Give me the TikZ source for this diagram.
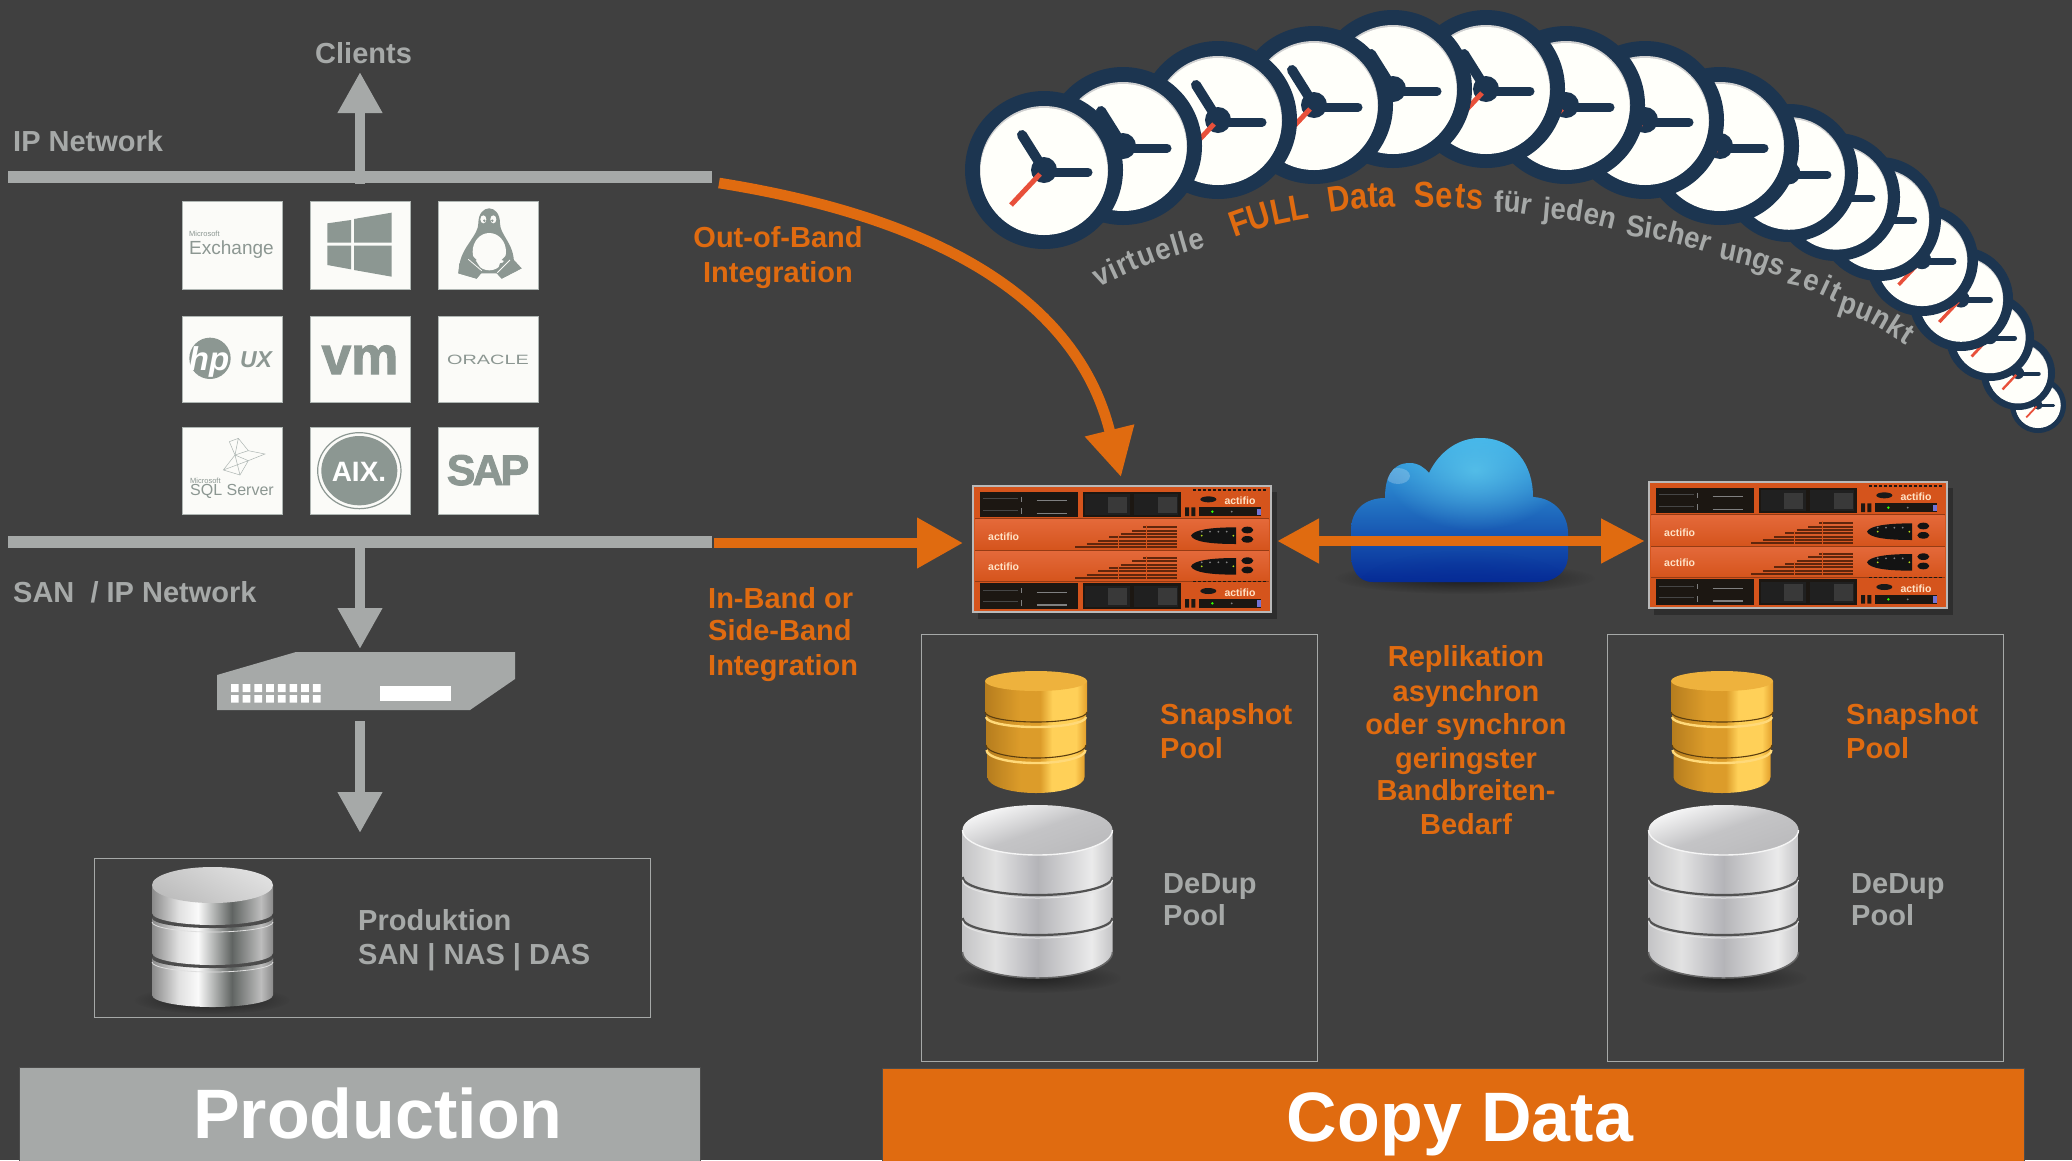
\documentclass[tikz,border=0pt]{standalone}
\usepackage{fontspec}
\setmainfont{Liberation Sans}
\newfontfamily\condf[FakeStretch=0.86]{Liberation Sans}
\newfontfamily\condg[FakeStretch=0.92]{Liberation Sans}
\newfontfamily\fatf[BoldFeatures={FakeBold=2}]{Liberation Sans}
\usetikzlibrary{arrows.meta,decorations.text,fadings}
\definecolor{bgc}{HTML}{404040}
\definecolor{gr}{HTML}{A6A9A8}
\definecolor{org}{HTML}{E06B10}
\definecolor{navy}{HTML}{1C3550}
\definecolor{logo}{HTML}{8C9792}
\definecolor{tilec}{HTML}{FBFBF8}
\definecolor{aorg}{HTML}{D5541C}
\definecolor{aorgl}{HTML}{E4693A}
\definecolor{pan}{HTML}{1C1712}
\definecolor{redh}{HTML}{E8503A}
\definecolor{cl1}{HTML}{3AAEE8}\definecolor{cl2}{HTML}{1572D2}\definecolor{cl3}{HTML}{062B96}\definecolor{cl4}{HTML}{5FCBEE}
% metal shadings
\definecolor{g1}{HTML}{B67D1E}\definecolor{g2}{HTML}{DC9C2A}\definecolor{g3}{HTML}{FFD058}\definecolor{g4}{HTML}{E39F2B}
\pgfdeclarehorizontalshading{goldsh}{100bp}{color(0bp)=(g1);color(25bp)=(g1);color(42bp)=(g2);color(52bp)=(g2);color(58bp)=(g3);color(70bp)=(g3);color(75bp)=(g4);color(100bp)=(g4)}
\definecolor{s1}{HTML}{C4C4C6}\definecolor{s2}{HTML}{E2E2E2}\definecolor{s3}{HTML}{B4B4B8}\definecolor{s4}{HTML}{EBEBEB}
\pgfdeclarehorizontalshading{silversh}{100bp}{color(0bp)=(s1);color(25bp)=(s1);color(36bp)=(s2);color(50bp)=(s3);color(68bp)=(s4);color(75bp)=(s1);color(100bp)=(s1)}
\definecolor{c1}{HTML}{8A8A8A}\definecolor{c2}{HTML}{E0E0E0}\definecolor{c3}{HTML}{FAFAFA}\definecolor{c4}{HTML}{606462}\definecolor{c5}{HTML}{BDBDBD}
\pgfdeclarehorizontalshading{chromesh}{100bp}{color(0bp)=(c1);color(25bp)=(c1);color(36bp)=(c2);color(44bp)=(c3);color(58bp)=(c4);color(70bp)=(c5);color(75bp)=(c1);color(100bp)=(c1)}
\tikzfading[name=softglow,inner color=transparent!25,outer color=transparent!100]
\tikzset{
 lb/.style={font=\bfseries\fontsize{29}{33}\selectfont,text=gr,anchor=base west,inner sep=0pt},
 lo/.style={lb,text=org},
 loc/.style={lo,anchor=base},
 bar/.style={fill=gr,draw=none,minimum width=704pt,minimum height=12pt,inner sep=0pt},
 tile/.style={fill=tilec,draw=logo!70,line width=.8pt,minimum width=100pt,inner sep=0pt},
 fbox/.style={draw=gr,line width=1.2pt,inner sep=0pt},
 grarrow/.style={draw=gr,line width=10.6pt,-{Triangle[length=41pt,width=42pt,fill=gr]}},
 orarrow/.style={draw=org,line width=10.6pt,{Triangle[length=42pt,width=42pt,fill=org]}-{Triangle[length=44pt,width=42pt,fill=org]}},
 oarrow/.style={draw=org,line width=10.6pt,-{Triangle[length=46pt,width=48pt,fill=org]}},
 bigt/.style={font=\bfseries\fontsize{70}{70}\selectfont,text=white,anchor=base,inner sep=0pt},
 logot/.style={text=logo,inner sep=0pt,anchor=base},
}
\newcommand\drum[6]{\path[shading=#6] (#1-#2,#3) -- (#1-#2,#4) arc[start angle=180,end angle=360,x radius=#2 pt,y radius=#5 pt] -- (#1+#2,#3) -- cycle;}
\newcommand\seam[6]{\draw[#6] (#1-#2,#3) arc[start angle=180,end angle=360,x radius=#2 pt,y radius=#5 pt];}
\newcommand\goldcyl[1]{\begin{scope}[shift={(#1,0)}]
 \drum{0}{48.5}{745}{777}{16}{goldsh}
 \seam{0}{49.5}{745}{0}{13}{draw=g3!80!white,line width=2.4pt,yshift=-5pt}
 \drum{0}{50}{712}{745}{13}{goldsh}
 \seam{0}{50}{745}{0}{13}{draw=black!50!g1,line width=1.1pt}
 \seam{0}{50}{712}{0}{10}{draw=g3!80!white,line width=2.4pt,yshift=-5pt}
 \drum{0}{51}{681}{712}{10}{goldsh}
 \seam{0}{51}{712}{0}{10}{draw=black!50!g1,line width=1.1pt}
 \fill[g4!60!g3] (0,681) ellipse (51pt and 10pt);
\end{scope}}
\newcommand\silvercyl[1]{\begin{scope}[shift={(#1,0)}]
 \fill[black,opacity=.6,path fading=softglow] (0,978) ellipse (84pt and 15pt);
 \drum{0}{75}{830}{952}{26}{silversh}
 \seam{0}{75}{952}{0}{26}{draw=black!60,line width=1.5pt}
 \seam{0}{75}{877}{0}{18}{draw=black!68,line width=2.2pt}
 \seam{0}{75}{880}{0}{18}{draw=white!80!gray,line width=1pt}
 \seam{0}{75}{918}{0}{17}{draw=black!68,line width=2.2pt}
 \seam{0}{75}{921}{0}{17}{draw=white!80!gray,line width=1pt}
 \shade[top color=s1!95!black,bottom color=white!90!s1,middle color=s1,shading angle=200] (0,830) ellipse (75pt and 25pt);
 \seam{0}{75}{830}{0}{25}{draw=white!92!gray,line width=1.4pt}
\end{scope}}
\newcommand\clockf[3]{\begin{scope}[shift={(#1,#2)},scale=#3/79]
 \pgfmathsetmacro\cks{#3/79}
 \fill[navy] (0,0) circle (79pt);
 \fill[black!18] (0,0) circle (64pt);
 \fill[white!98!yellow] (0,1.5) circle (63.5pt);
 \draw[navy,line cap=round,line width=\cks*10pt] (0,0)--(-22,-35);
 \draw[navy,line cap=round,line width=\cks*9pt] (0,2)--(44,2);
 \fill[navy] (0,0) circle (13pt);
 \draw[redh,line width=\cks*5pt] (-4,4)--(-33,35);
\end{scope}}
\newcommand\appl[2]{\begin{scope}[shift={#1},scale=1/3]
 \fill[black,opacity=.28] (55,185) rectangle (952,566);
 \node[draw=gray!55!white,fill=aorg,line width=2.6pt,minimum width=298pt,minimum height=126pt,inner sep=0pt,anchor=center] (#2) at (486,357.5) {};
 \shade[top color=aorgl,bottom color=aorg] (46,268) rectangle (926,360);
 \shade[top color=aorgl,bottom color=aorg] (46,362) rectangle (926,454);
 \draw[black!30!aorg,line width=.8pt] (46,361)--(926,361) (46,265)--(926,265) (46,455)--(926,455);
 \foreach \dy in {0,275}{
  \fill[pan] (60,185+\dy) rectangle (355,262+\dy);
  \fill[pan] (368,185+\dy) rectangle (662,262+\dy);
  \fill[black!75!gray] (375,192+\dy) rectangle (510,255+\dy);
  \fill[black!75!gray] (522,192+\dy) rectangle (655,255+\dy);
  \fill[black!55!gray] (445,200+\dy) rectangle (500,250+\dy);
  \fill[black!55!gray] (595,200+\dy) rectangle (650,250+\dy);
  \draw[black!45!gray,line width=.7pt] (70,205+\dy)--(175,205+\dy) (70,240+\dy)--(175,240+\dy);
  \draw[gray,line width=1.2pt] (230,212+\dy)--(320,212+\dy) (230,250+\dy)--(320,250+\dy) (185,200+\dy)--(185,215+\dy) (185,235+\dy)--(185,252+\dy);
  \fill[pan] (675,232+\dy) rectangle (687,258+\dy) (694,232+\dy) rectangle (706,258+\dy);
  \fill[pan] (717,232+\dy) rectangle (903,258+\dy);
  \fill[black!30!blue!55!white] (890,236+\dy) rectangle (903,255+\dy);
  \fill[green!80!yellow] (757,245+\dy) circle (4pt);
  \fill[gray] (815,245+\dy) circle (3pt);
  \draw[pan,line width=1.3pt,dash pattern=on 3pt off 2pt] (700,180+\dy)--(925,180+\dy);
  \fill[black!80!gray] (745,208+\dy) ellipse (24pt and 9pt);
  \node[text=white!78!orange,inner sep=0pt,font=\bfseries\fontsize{10.5}{11}\selectfont] at (840,213+\dy) {actifio};
 }
 \foreach \dy in {0,92}{
  \foreach \i in {0,...,6}{
   \draw[black!55!aorg,line width=1.8pt] ({550-34*\i},{292+10*\i+\dy})--(650,{292+10*\i+\dy});
  }
  \draw[aorg,line width=1pt] (560,285+\dy)--(560,358+\dy) (475,315+\dy)--(475,358+\dy);
  \fill[black!85!gray] (693,317+\dy) .. controls (700,300+\dy) and (750,292+\dy) .. (828,292+\dy) -- (828,342+\dy) .. controls (750,342+\dy) and (700,335+\dy) .. (693,317+\dy) -- cycle;
  \foreach \p in {725,750,775,800}{\fill[gray] (\p,305+\dy) circle (3pt);}
  \fill[yellow!70!green] (725,317+\dy) circle (3pt) (820,317+\dy) circle (3pt);
  \fill[black!85!gray] (862,300+\dy) ellipse (18pt and 10pt) (862,328+\dy) ellipse (18pt and 10pt);
  \node[text=white!78!orange,inner sep=0pt,font=\bfseries\fontsize{10.5}{11}\selectfont] at (131,319+\dy) {actifio};
 }
\end{scope}}
\newcommand\arcw[5]{\path[decorate,decoration={text along path,text={|#4|#5},text align=fit to path}] #1 .. controls #2 .. #3;}
\newcommand\fgr{\color{gr}\condg\bfseries\fontsize{30}{30}\selectfont}
\newcommand\for{\color{org}\condf\bfseries\fontsize{36}{36}\selectfont}
\begin{document}
\begin{tikzpicture}[x=1pt,y=-1pt]
\useasboundingbox (0,0) rectangle (2072,1160);
\fill[bgc] (0,0) rectangle (2072,1160);

%---- clocks (back to front)
\clockf{2038}{405}{28}
\clockf{2018}{373}{37}
\clockf{1990}{337}{44}
\clockf{1961}{299}{52}
\clockf{1922}{260}{56}
\clockf{1879}{219}{62}
\clockf{1836}{197}{64}
\clockf{1789}{173}{69}
\clockf{1720}{146}{79}
\clockf{1645}{120}{79}
\clockf{1566}{105}{79}
\clockf{1486}{89}{79}
\clockf{1393}{89}{79}
\clockf{1314}{105}{79}
\clockf{1218}{120}{79}
\clockf{1123}{146}{79}
\clockf{1044}{170}{79}
%---- curved caption
\arcw{(1098,287)}{(1150,263)}{(1206,247)}{\fgr}{virtuelle}
\arcw{(1234,238)}{(1271,225)}{(1310,218)}{\for}{FULL}
\arcw{(1329,213)}{(1362,208)}{(1396,207)}{\for}{Data}
\arcw{(1414,208)}{(1448,207)}{(1483,210)}{\for}{Sets}
\arcw{(1494,212)}{(1512,212)}{(1530,215)}{\fgr}{für}
\arcw{(1542,218)}{(1578,221)}{(1614,230)}{\fgr}{jeden}
\arcw{(1625,235)}{(1670,241)}{(1708,253)}{\fgr}{Sicher}
\arcw{(1718,259)}{(1749,265)}{(1781,277)}{\fgr}{ungs}
\arcw{(1786,284)}{(1809,289)}{(1836,302)}{\fgr}{zeit}
\arcw{(1837,311)}{(1870,322)}{(1906,345)}{\fgr}{punkt}

%---- left: network bars
\node[bar,anchor=north west] (ipbar) at (8,171) {};
\node[bar,anchor=north west] (sanbar) at (8,536) {};
\coordinate (clientsTip) at (360,72);
\coordinate (ipOut) at (360,184);
\coordinate (sanOut) at (360,536);
\coordinate (switchTip) at (360,649);
\coordinate (switchOut) at (360,721);
\coordinate (storeTip) at (360,833);
\draw[grarrow] (ipOut) -- (clientsTip);
\draw[grarrow] (sanOut) -- (switchTip);
\draw[grarrow] (switchOut) -- (storeTip);
\node[lb] (tclients) at (315,63) {Clients};
\node[lb] (tip) at (13,151) {IP Network};
\node[lb] (tsan) at (13,602) {SAN\ \ / IP Network};

%---- tiles
\node[tile,minimum height=88pt] (t11) at (232,245) {};
\node[tile,minimum height=88pt] (t12) at (360,245) {};
\node[tile,minimum height=88pt] (t13) at (488,245) {};
\node[tile,minimum height=86pt] (t21) at (232,359) {};
\node[tile,minimum height=86pt] (t22) at (360,359) {};
\node[tile,minimum height=86pt] (t23) at (488,359) {};
\node[tile,minimum height=87pt] (t31) at (232,470.5) {};
\node[tile,minimum height=87pt] (t32) at (360,470.5) {};
\node[tile,minimum height=87pt] (t33) at (488,470.5) {};
% logos
\node[logot,font=\fontsize{7.5}{7.5}\selectfont,anchor=base west] (lex0) at (189,236) {Microsoft};
\node[logot,font=\fontsize{19}{20}\selectfont,anchor=base west] (lex) at (189,254) {Exchange};
\begin{scope}[shift={(160,180)},scale=1/3]
 \fill[logo] (502,130)--(573,120)--(573,188)--(502,188)--cycle;
 \fill[logo] (582,117)--(695,98)--(695,188)--(582,188)--cycle;
 \fill[logo] (502,197)--(573,197)--(573,268)--(502,255)--cycle;
 \fill[logo] (582,197)--(695,197)--(695,290)--(582,270)--cycle;
 % tux
 \fill[logo] (955,130) .. controls (955,70) and (1020,70) .. (1020,130) .. controls (1020,165) and (1062,190) .. (1062,250) -- (1085,265) -- (1025,296) -- (1012,280) -- (962,280) -- (950,296) -- (895,280) -- (900,245) .. controls (912,195) and (955,165) .. (955,130) -- cycle;
 \fill[tilec] (988,215) ellipse (50pt and 56pt);
 \fill[tilec] (970,118) ellipse (9pt and 12pt) (1000,118) ellipse (9pt and 12pt);
 \fill[logo] (973,122) circle (4pt) (997,122) circle (4pt);
 \fill[logo] (898,250)--(945,238)--(968,275)--(950,296)--(895,280)--cycle;
 \fill[logo] (1020,250)--(1062,240)--(1085,265)--(1025,296)--(1010,280)--cycle;
 \fill[logo] (925,200) .. controls (925,215) and (935,225) .. (950,240) -- (925,250) -- (918,225) -- cycle;
 \fill[logo] (1050,200) .. controls (1050,215) and (1040,225) .. (1025,240) -- (1052,250) -- (1058,225) -- cycle;
 \fill[logo] (970,135) -- (1000,135) -- (985,150) -- cycle;
 \draw[tilec,line width=.8pt] (925,238)--(965,272) (1050,240)--(1012,278);
 % hp disc
 \fill[logo] (150,535) circle (62pt);
 % AIX
 \draw[logo,line width=1.2pt] (598,872) ellipse (125pt and 114pt);
 \fill[logo] (598,872) ellipse (114pt and 104pt);
 % SQL sketch
 \draw[logo!70,line width=.5pt] (208,785)--(235,775)--(265,812)--(315,822)--(265,842)--(240,885)--(190,870)--(225,825)--(208,785) (235,775)--(225,825)--(265,842) (225,825)--(265,812) (225,825)--(240,885) (190,870)--(265,842);
\end{scope}
\node[logot,text=white,font=\fatf\bfseries\itshape\fontsize{33}{33}\selectfont] (lhp) at (209,370) {hp};
\node[logot,font=\fatf\bfseries\itshape\fontsize{23}{23}\selectfont] (lux) at (256,367) {UX};
\node[logot,font=\fatf\bfseries\fontsize{53}{53}\selectfont] (lvm) at (360,374) {vm};
\node[logot,font=\fontsize{13.5}{13.5}\selectfont] (lora) at (488,364) {\scalebox{1.47}[1]{ORACLE}};
\node[logot,font=\fontsize{7.5}{7.5}\selectfont,anchor=base west] (lsq0) at (190,483) {Microsoft};
\node[logot,font=\fontsize{16}{16}\selectfont,anchor=base west] (lsq) at (190,495) {SQL Server};
\node[logot,text=white,font=\bfseries\fontsize{28}{28}\selectfont] (laix) at (359,481) {AIX.};
\node[logot,font=\fatf\bfseries\fontsize{43}{43}\selectfont] (lsap) at (488,485) {S\kern-3pt A\kern-3pt P};

%---- switch
\fill[gr] (217,675)--(296,652)--(515,652)--(515,679)--(470,710)--(217,710)--cycle;
\foreach \c in {0,...,7}{\fill[white] ({231+\c*11.7},684) rectangle ++(7.7,8) ({231+\c*11.7},695) rectangle ++(7.7,7.5);}
\fill[white] (380,686) rectangle (451,701);

%---- production storage
\node[fbox,anchor=north west,minimum width=556pt,minimum height=159pt] (prodbox) at (94,858) {};
\fill[black,opacity=.7,path fading=softglow] (212,1000) ellipse (78pt and 14pt);
\drum{212.5}{60.5}{958}{995}{12}{chromesh}
\fill[black!70] (212.5,958) ellipse (60.5pt and 10pt);
\draw[white!75!gray,line width=.8pt] (152,962) arc[start angle=180,end angle=360,x radius=60.5pt,y radius=10pt];
\drum{212.5}{60.5}{918}{953}{12}{chromesh}
\fill[black!70] (212.5,918) ellipse (60.5pt and 10pt);
\draw[white!75!gray,line width=.8pt] (152,922) arc[start angle=180,end angle=360,x radius=60.5pt,y radius=10pt];
\drum{212.5}{60.5}{885}{913}{12}{chromesh}
\shade[top color=c5,bottom color=c2,shading angle=150] (212.5,885) ellipse (60.5pt and 18pt);
\node[lb] (tprod1) at (358,930) {Produktion};
\node[lb] (tprod2) at (358,964) {SAN | NAS | DAS};

%---- bottom banners
\node[fill=gr,draw=black!70,line width=1pt,anchor=north west,minimum width=681pt,minimum height=94pt,inner sep=0pt] (prodbar) at (19,1067) {};
\node[bigt] (tproduction) at (378,1138) {Production};
\node[fill=org,draw=black!70,line width=1pt,anchor=north west,minimum width=1142pt,minimum height=94pt,inner sep=0pt] (copybar) at (882,1068) {};
\node[bigt] (tcopy) at (1460,1141) {Copy Data};

%---- copy data boxes
\node[fbox,anchor=north west,minimum width=396pt,minimum height=427pt] (boxa) at (921,634) {};
\node[fbox,anchor=north west,minimum width=396pt,minimum height=427pt] (boxb) at (1607,634) {};
\goldcyl{1036}
\goldcyl{1722}
\silvercyl{1037.5}
\silvercyl{1723.5}
\node[lo] (snapa1) at (1160,724) {Snapshot};
\node[lo] (snapa2) at (1160,758) {Pool};
\node[lb] (dedupa1) at (1163,893) {DeDup};
\node[lb] (dedupa2) at (1163,925) {Pool};
\node[lo] (snapb1) at (1846,724) {Snapshot};
\node[lo] (snapb2) at (1846,758) {Pool};
\node[lb] (dedupb1) at (1851,893) {DeDup};
\node[lb] (dedupb2) at (1851,925) {Pool};

\node[loc] (rep1) at (1466,666) {Replikation};
\node[loc] (rep2) at (1466,701) {asynchron};
\node[loc] (rep3) at (1466,734) {oder synchron};
\node[loc] (rep4) at (1466,768) {geringster};
\node[loc] (rep5) at (1466,800) {Bandbreiten-};
\node[loc] (rep6) at (1466,834) {Bedarf};

%---- integration labels
\node[loc] (oob1) at (778,247) {Out-of-Band};
\node[loc] (oob2) at (778,282) {Integration};
\node[lo] (ib1) at (708,608) {In-Band or};
\node[lo] (ib2) at (708,640) {Side-Band};
\node[lo] (ib3) at (708,675) {Integration};

%---- appliances
\appl{(960,430)}{appa}
\appl{(1636,426)}{appb}

%---- cloud
\fill[black,opacity=.8,path fading=softglow] (1465,578) ellipse (130pt and 16pt);
\begin{scope}
 \path[clip] (1373,582) .. controls (1358,582) and (1351,570) .. (1351,553) -- (1351,530) .. controls (1351,510) and (1365,498) .. (1385,498) .. controls (1385,480) and (1390,463) .. (1410,463) .. controls (1418,463) and (1425,468) .. (1429,473) .. controls (1440,450) and (1460,438) .. (1480,438) .. controls (1515,438) and (1533,465) .. (1533,497) .. controls (1555,498) and (1568,515) .. (1568,533) -- (1568,555) .. controls (1568,572) and (1555,582) .. (1537,582) -- cycle;
 \shade[top color=cl1,middle color=cl2,bottom color=cl3] (1340,438) rectangle (1580,582);
 \fill[cl4,path fading=softglow] (1475,470) ellipse (90pt and 60pt);
 \fill[cl3,opacity=.8,path fading=softglow] (1465,590) ellipse (110pt and 40pt);
 \fill[white,opacity=.22] (1398,476) ellipse (12pt and 8pt);
\end{scope}

%---- orange connectors
\coordinate (oobStart) at (719,183);
\coordinate (oobTip) at (1121,477);
\draw[draw=org,line width=10.6pt,-{Triangle[length=48pt,width=48pt,fill=org]}] (oobStart) .. controls (920,215) and (1075,290) .. (oobTip);
\coordinate (ibStart) at (714,543);
\coordinate (ibTip) at (963,543);
\draw[oarrow] (ibStart) -- (ibTip);
\coordinate (repA) at (1277,541);
\coordinate (repB) at (1645,541);
\draw[orarrow] (repA) -- (repB);
\end{tikzpicture}
\end{document}
